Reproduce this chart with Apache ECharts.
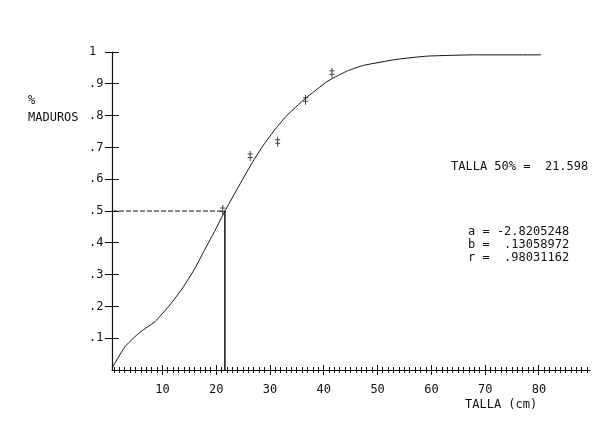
<!DOCTYPE html>
<html>
<head>
<meta charset="utf-8">
<script src="https://cdn.jsdelivr.net/npm/echarts@6/dist/echarts.min.js"></script>
<style>
html,body{margin:0;padding:0;background:#fff;}
#chart{width:600px;height:426px;}
</style>
</head>
<body>
<div id="chart"></div>
<script>
// Fitted curve
const tallaCurve = [0.6, 3.0, 5.2, 6.8, 8.6, 11.4, 13.9, 16.1, 17.9, 19.8, 21.6, 26.6, 28.8, 31.0, 33.1, 36.5, 40.6, 42.5, 44.6, 47.4, 53.6, 59.2, 67.9, 80.4];
const maduroCurve = [0.006, 0.073, 0.110, 0.131, 0.152, 0.205, 0.262, 0.322, 0.380, 0.440, 0.500, 0.650, 0.708, 0.758, 0.800, 0.853, 0.907, 0.925, 0.942, 0.958, 0.977, 0.987, 0.991, 0.991];
// Observed points
const tallaObs = [21.2, 26.3, 31.4, 36.6, 41.5];
const maduroObs = [0.503, 0.673, 0.718, 0.850, 0.935];
// 50% size
const talla50 = 21.598;
const nivel50 = 0.5;
// Axis ticks
const xMajorTicks = [10, 20, 30, 40, 50, 60, 70, 80];
const xMinorTicks = [1,2,3,4,5,6,7,8,9,10,11,12,13,14,15,16,17,18,19,20,21,22,23,24,25,26,27,28,29,30,31,32,33,34,35,36,37,38,39,40,41,42,43,44,45,46,47,48,49,50,51,52,53,54,55,56,57,58,59,60,61,62,63,64,65,66,67,68,69,70,71,72,73,74,75,76,77,78,79,80,81,82,83,84,85,86,87,88,89];
const yTicks = [0.1, 0.2, 0.3, 0.4, 0.5, 0.6, 0.7, 0.8, 0.9, 1];
const yTickLabels = ['.1', '.2', '.3', '.4', '.5', '.6', '.7', '.8', '.9', '1'];
const xMin = 0.6, xMax = 89.5;

const FONT = '"DejaVu Sans Mono", "Liberation Mono", monospace';
const INK = '#111';

const chart = echarts.init(document.getElementById('chart'), null, {renderer: 'canvas'});

function crisp(v) { return Math.round(v - 0.5) + 0.5; }

// Crossing ("+") ticks drawn through the axes' own scales
function xTickItem(params, api) {
  const v = api.value(0);
  const p = api.coord([v, 0]);
  const len = xMajorTicks.indexOf(v) >= 0 ? 5 : 3;
  const x = crisp(p[0]);
  return {type: 'line', shape: {x1: x, y1: p[1] - len, x2: x, y2: p[1] + len},
    style: {stroke: INK, lineWidth: 1}};
}
function yTickItem(params, api) {
  const v = api.value(1);
  const p = api.coord([xMin, v]);
  const y = crisp(p[1]);
  return {type: 'line', shape: {x1: p[0] - 7, y1: y, x2: p[0] + 7, y2: y},
    style: {stroke: INK, lineWidth: 1}};
}

const option = {
  backgroundColor: '#fff',
  animation: false,
  grid: {left: 112, right: 10, top: 52, bottom: 56},
  xAxis: {
    type: 'value', min: xMin, max: xMax,
    splitLine: {show: false},
    axisLine: {show: true, onZero: false, lineStyle: {color: INK, width: 1.2}},
    axisTick: {show: false},
    axisLabel: {show: true, customValues: xMajorTicks, margin: 14, color: INK,
      fontFamily: FONT, fontSize: 12, formatter: v => String(v)}
  },
  yAxis: {
    type: 'value', min: 0, max: 1,
    splitLine: {show: false},
    axisLine: {show: true, onZero: false, lineStyle: {color: INK, width: 1.2}},
    axisTick: {show: false},
    axisLabel: {show: true, customValues: yTicks, margin: 23, align: 'left', color: INK,
      fontFamily: FONT, fontSize: 12,
      formatter: v => yTickLabels[yTicks.findIndex(t => Math.abs(t - v) < 1e-6)] || ''}
  },
  series: [
    {type: 'custom', clip: false, silent: true, data: xMinorTicks.map(v => [v, 0]), renderItem: xTickItem},
    {type: 'custom', clip: false, silent: true, data: yTicks.map(v => [xMin, v]), renderItem: yTickItem},
    {
      type: 'line',
      data: tallaCurve.map((x, i) => [x, maduroCurve[i]]),
      showSymbol: false, smooth: 0.15,
      lineStyle: {color: INK, width: 1}
    },
    {
      type: 'line',
      data: [[xMin, nivel50], [talla50, nivel50]],
      showSymbol: false,
      lineStyle: {color: INK, width: 1, type: [5, 2]}
    },
    {
      type: 'line',
      data: [[talla50, 0], [talla50, nivel50]],
      showSymbol: false,
      lineStyle: {color: INK, width: 1.5}
    },
    {
      type: 'scatter',
      data: tallaObs.map((x, i) => [x, maduroObs[i]]),
      symbol: 'path://M2,0H3V10H2Z M0,2.5H5V3.5H0Z M0,6H5V7H0Z',
      symbolSize: [5, 10],
      itemStyle: {color: INK}
    }
  ],
  graphic: [
    {type: 'text', left: 28, top: 95, style: {text: '%', font: '12px ' + FONT, fill: INK}},
    {type: 'text', left: 28, top: 112, style: {text: 'MADUROS', font: '12px ' + FONT, fill: INK}},
    {type: 'text', left: 451, top: 161, style: {text: 'TALLA 50% =  21.598', font: '12px ' + FONT, fill: INK}},
    {type: 'text', left: 468, top: 225, style: {text: 'a = -2.8205248\nb =  .13058972\nr =  .98031162', font: '12px ' + FONT, fill: INK, lineHeight: 13}},
    {type: 'text', left: 465, top: 399, style: {text: 'TALLA (cm)', font: '12px ' + FONT, fill: INK}}
  ]
};
chart.setOption(option);
</script>
</body>
</html>
